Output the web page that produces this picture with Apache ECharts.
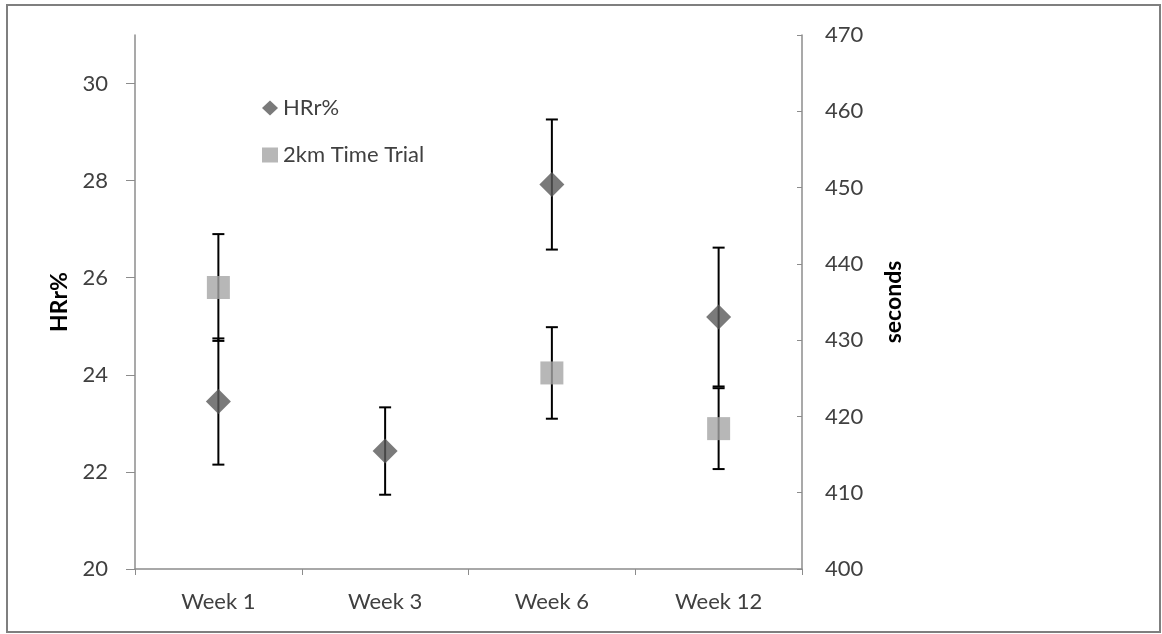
<!DOCTYPE html>
<html lang="en">
<head>
    <meta charset="UTF-8">
    <title>HRr% and 2km Time Trial</title>
    <style>
        html, body { margin: 0; padding: 0; background: #fff; }
        #main { width: 1162px; height: 634px; }
    </style>
</head>
<body>
<div id="main"></div>
<script src="https://cdn.jsdelivr.net/npm/echarts@6/dist/echarts.min.js"></script>
<script>
    // data
    var categories = ['Week 1', 'Week 3', 'Week 6', 'Week 12'];
    var hrrValues = [23.45, 22.43, 27.92, 25.19];
    var hrrErrors = [1.3, 0.9, 1.34, 1.43];
    var trialValues = [436.9, null, 425.7, 418.4];
    var trialErrors = [7.0, null, 6.0, 5.3];
    var hrrTicks = [20, 31, 2];      // min, max, interval
    var secondTicks = [400, 470, 10];

    var FONT = 'Lato';
    var TEXT = '#404040';
    var AXIS = '#8c8c8c';

    function errorData(values, errors) {
        var out = [];
        for (var i = 0; i < values.length; i++) {
            if (values[i] == null) continue;
            out.push([i, values[i] - errors[i], values[i] + errors[i]]);
        }
        return out;
    }

    function renderError(params, api) {
        var top = api.coord([api.value(0), api.value(2)]);
        var bottom = api.coord([api.value(0), api.value(1)]);
        var half = 6;
        var style = { stroke: '#000', lineWidth: 2 };
        return {
            type: 'group',
            children: [
                { type: 'line', shape: { x1: top[0], y1: top[1], x2: bottom[0], y2: bottom[1] }, style: style },
                { type: 'line', shape: { x1: top[0] - half, y1: top[1], x2: top[0] + half, y2: top[1] }, style: style },
                { type: 'line', shape: { x1: bottom[0] - half, y1: bottom[1], x2: bottom[0] + half, y2: bottom[1] }, style: style }
            ]
        };
    }

    var chart = echarts.init(document.getElementById('main'));
    var option = {
        animation: false,
        textStyle: { fontFamily: FONT },
        graphic: [{
            type: 'rect',
            shape: { x: 7, y: 5, width: 1153, height: 627 },
            style: { fill: 'none', stroke: '#7f7f7f', lineWidth: 2 },
            silent: true
        }],
        legend: {
            orient: 'vertical',
            left: 257,
            top: 92,
            itemGap: 25,
            itemWidth: 16,
            itemHeight: 15,
            textStyle: { fontSize: 22, color: TEXT, fontFamily: FONT },
            data: [
                { name: 'HRr%', icon: 'diamond' },
                { name: '2km Time Trial', icon: 'rect' }
            ]
        },
        grid: { left: 135, right: 360, top: 35, bottom: 65 },
        xAxis: {
            type: 'category',
            data: categories,
            boundaryGap: true,
            axisLine: { lineStyle: { color: AXIS, width: 1.5 } },
            axisTick: { show: true, length: 6, inside: false, lineStyle: { color: AXIS } },
            axisLabel: { fontSize: 22, color: TEXT, margin: 22, fontFamily: FONT }
        },
        yAxis: [{
            type: 'value',
            name: 'HRr%',
            nameLocation: 'middle',
            nameGap: 64,
            nameTextStyle: { fontSize: 23, fontWeight: 'bold', color: '#000', fontFamily: FONT },
            min: hrrTicks[0],
            max: hrrTicks[1],
            interval: hrrTicks[2],
            splitLine: { show: false },
            axisLine: { show: true, lineStyle: { color: AXIS, width: 1.5 } },
            axisTick: { show: true, length: 9, lineStyle: { color: AXIS } },
            axisLabel: { fontSize: 22, color: TEXT, margin: 27, showMaxLabel: false, fontFamily: FONT }
        }, {
            type: 'value',
            name: 'seconds',
            nameLocation: 'middle',
            nameGap: 80,
            nameTextStyle: { fontSize: 23, fontWeight: 'bold', color: '#000', fontFamily: FONT },
            position: 'right',
            min: secondTicks[0],
            max: secondTicks[1],
            interval: secondTicks[2],
            splitLine: { show: false },
            axisLine: { show: true, lineStyle: { color: AXIS, width: 1.5 } },
            axisTick: { show: true, inside: true, length: 5, lineStyle: { color: AXIS } },
            axisLabel: { fontSize: 22, color: TEXT, margin: 23, fontFamily: FONT }
        }],
        series: [{
            name: 'HRr% error',
            type: 'custom',
            yAxisIndex: 0,
            renderItem: renderError,
            data: errorData(hrrValues, hrrErrors),
            z: 2
        }, {
            name: '2km Time Trial error',
            type: 'custom',
            yAxisIndex: 1,
            renderItem: renderError,
            data: errorData(trialValues, trialErrors),
            z: 2
        }, {
            name: 'HRr%',
            type: 'scatter',
            yAxisIndex: 0,
            symbol: 'diamond',
            symbolSize: [25, 25],
            itemStyle: { color: '#595959' },
            data: hrrValues,
            z: 3
        }, {
            name: '2km Time Trial',
            type: 'scatter',
            yAxisIndex: 1,
            symbol: 'rect',
            symbolSize: 23,
            itemStyle: { color: '#a5a5a5' },
            data: trialValues,
            z: 3
        }]
    };
    chart.setOption(option);
</script>
</body>
</html>
